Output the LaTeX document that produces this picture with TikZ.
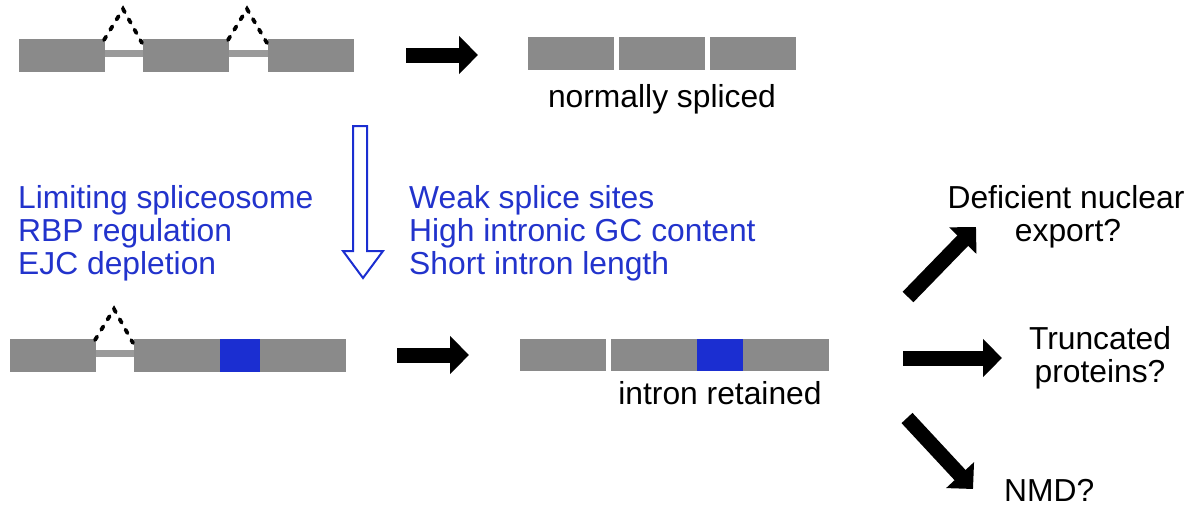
\documentclass[tikz,border=0pt]{standalone}
\usepackage{fontspec}
\setmainfont{Liberation Sans}
\usetikzlibrary{arrows.meta}
\definecolor{exgray}{HTML}{8A8A8A}
\definecolor{ingray}{HTML}{9A9A9A}
\definecolor{rblue}{HTML}{1B2ED1}
\definecolor{tblue}{HTML}{2233CC}
\begin{document}
\begin{tikzpicture}[x=1pt,y=-1pt,
  exon/.style={fill=exgray,draw=none},
  retained/.style={fill=rblue,draw=none},
  intronline/.style={fill=ingray,draw=none},
  splice/.style={draw=black,line width=3.8pt,line cap=round,dash pattern=on 4pt off 8pt},
  bigarrow/.style={draw=black,line width=15pt,-{Triangle[length=19pt,width=37pt]}},
  lbl/.style={font=\fontsize{31.8}{33}\selectfont,inner sep=0pt,anchor=base},
  blbl/.style={lbl,text=tblue,anchor=base west}]
\useasboundingbox (0,0) rectangle (1197,507);
% ---- top pre-mRNA
\fill[intronline] (105,50) rectangle (143,57);
\fill[intronline] (229,50) rectangle (268,57);
\fill[exon] (19,39) rectangle (105,72);
\fill[exon] (143,39) rectangle (229,72);
\fill[exon] (268,39) rectangle (354,72);
\coordinate (s1a) at (104,40); \coordinate (s1p) at (123,9); \coordinate (s1b) at (142,43);
\coordinate (s2a) at (228,40); \coordinate (s2p) at (247,9); \coordinate (s2b) at (267,43);
\draw[splice] (s1a) -- (s1p) -- (s1b);
\draw[splice] (s2a) -- (s2p) -- (s2b);
% arrow top
\coordinate (at1) at (406,55); \coordinate (at2) at (478,55);
\draw[bigarrow] (at1) -- (at2);
% normally spliced
\fill[exon] (528,37) rectangle (614,70);
\fill[exon] (619,37) rectangle (705,70);
\fill[exon] (710,37) rectangle (796,70);
\node[lbl] (ns) at (662,107) {normally spliced};
% blue hollow arrow
\draw[rblue,line width=2pt,line join=miter] (353,126) -- (367,126) -- (367,251) -- (383,251) -- (363,278) -- (343,251) -- (353,251) -- cycle;
% left blue text
\node[blbl] (l1) at (18,208) {Limiting spliceosome};
\node[blbl] (l2) at (18,241) {RBP regulation};
\node[blbl] (l3) at (18,274) {EJC depletion};
\node[blbl] (r1) at (409,208) {Weak splice sites};
\node[blbl] (r2) at (409,241) {High intronic GC content};
\node[blbl] (r3) at (409,274) {Short intron length};
% bottom pre-mRNA
\fill[intronline] (96,350) rectangle (134,357);
\fill[exon] (10,339) rectangle (96,372);
\fill[exon] (134,339) rectangle (220,372);
\fill[retained] (220,339) rectangle (260,372);
\fill[exon] (260,339) rectangle (346,372);
\coordinate (s3a) at (95,340); \coordinate (s3p) at (114,309); \coordinate (s3b) at (133,343);
\draw[splice] (s3a) -- (s3p) -- (s3b);
\coordinate (ab1) at (397,355); \coordinate (ab2) at (469,355);
\draw[bigarrow] (ab1) -- (ab2);
% intron retained
\fill[exon] (520,339) rectangle (606,371);
\fill[exon] (611,339) rectangle (697,371);
\fill[retained] (697,339) rectangle (743,371);
\fill[exon] (743,339) rectangle (829,371);
\node[lbl] (ir) at (720,404) {intron retained};
% outcomes
\coordinate (o1a) at (908,297); \coordinate (o1b) at (976,227);
\coordinate (o2a) at (903,358); \coordinate (o2b) at (1002,358);
\coordinate (o3a) at (907,418); \coordinate (o3b) at (973,489);
\draw[bigarrow] (o1a) -- (o1b);
\draw[bigarrow] (o2a) -- (o2b);
\draw[bigarrow] (o3a) -- (o3b);
\node[lbl] (d1) at (1066,208) {Deficient nuclear};
\node[lbl] (d2) at (1068,241) {export?};
\node[lbl] (t1) at (1100,349) {Truncated};
\node[lbl] (t2) at (1100,382) {proteins?};
\node[lbl,anchor=base west] (nmd) at (1004,501) {NMD?};
\end{tikzpicture}
\end{document}
